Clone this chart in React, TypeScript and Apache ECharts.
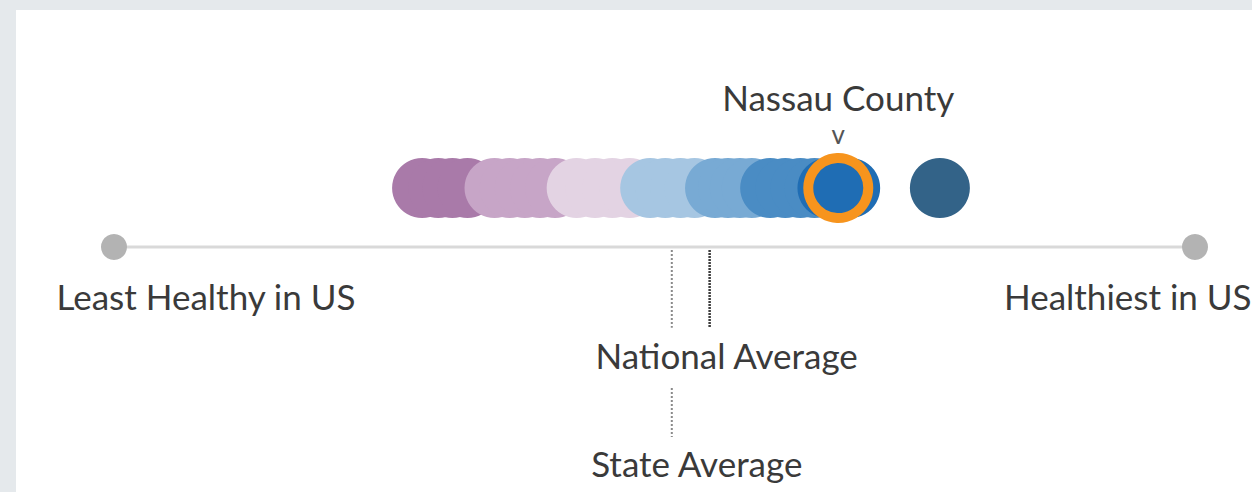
import React, { useEffect, useRef } from "react";
import * as echarts from "echarts";

// Health score of each county on a 0 (least healthy in US) .. 100 (healthiest in US) scale
const countyScores = [
  28.5, 30.0, 31.3, 32.7, 35.2, 36.6, 38.0, 39.4, 40.8, 42.8, 44.5, 46.1, 47.7,
  49.6, 51.0, 52.4, 53.7, 55.6, 56.8, 57.9, 59.0, 60.7, 62.1, 63.5, 64.8, 66.0,
  68.1, 76.4,
];
// Quantile bin of each county (0 = worst .. 7 = best)
const countyBins = [
  0, 0, 0, 0, 1, 1, 1, 1, 1, 2, 2, 2, 2, 3, 3, 3, 3, 4, 4, 4, 4, 5, 5, 5, 5, 6, 6, 7,
];
const highlightName = "Nassau County";
const highlightScore = 67.0;
const highlightBin = 6;
const stateAverage = 51.6;
const nationalAverage = 55.1;
const scaleMin = 0;
const scaleMax = 100;
const scaleLabels = ["Least Healthy in US", "Healthiest in US"];

const binColors = [
  "#a97aa9",
  "#c7a5c7",
  "#e3d3e3",
  "#a6c6e2",
  "#78aad4",
  "#4a8cc4",
  "#1f6db4",
  "#336388",
];

const TEXT = "#3a3a3a";
const FONT = "Lato, 'Open Sans', sans-serif";
const FS = 35;

export default function App() {
  const ref = useRef<HTMLDivElement>(null);
  useEffect(() => {
    if (!ref.current) return;
    const chart = echarts.init(ref.current, undefined, { renderer: "svg" });
    const option: any = {
      animation: false,
      backgroundColor: "#e5e9ec",
      graphic: [
        {
          type: "rect",
          z: -100,
          shape: { x: 16, y: 10, width: 1252 - 16, height: 492 - 10 },
          style: { fill: "#ffffff" },
          silent: true,
        },
      ],
      grid: { left: 114, right: 57, top: 188, bottom: 9, containLabel: false },
      xAxis: {
        type: "value",
        min: scaleMin,
        max: scaleMax,
        show: false,
      },
      yAxis: {
        type: "value",
        min: -4,
        max: 1,
        show: false,
      },
      series: [
        {
          type: "line",
          z: 1,
          symbol: "none",
          silent: true,
          data: [
            [scaleMin, 0],
            [scaleMax, 0],
          ],
          lineStyle: { color: "#d9d9d9", width: 3 },
        },
        {
          type: "line",
          z: 1,
          symbol: "none",
          silent: true,
          data: [
            [stateAverage, -0.05],
            [stateAverage, -1.37],
          ],
          lineStyle: { color: "#8a8a8a", width: 2, type: [2, 2] },
        },
        {
          type: "line",
          z: 1,
          symbol: "none",
          silent: true,
          data: [
            [stateAverage, -2.39],
            [stateAverage, -3.22],
          ],
          lineStyle: { color: "#8a8a8a", width: 2, type: [2, 2] },
        },
        {
          type: "line",
          z: 1,
          symbol: "none",
          silent: true,
          data: [
            [nationalAverage, -0.05],
            [nationalAverage, -1.37],
          ],
          lineStyle: { color: "#3d3d3d", width: 2.5, type: [2, 1] },
        },
        {
          type: "scatter",
          z: 2,
          silent: true,
          symbolSize: 0.1,
          itemStyle: { opacity: 1, color: "rgba(0,0,0,0)" },
          data: [
            {
              value: [nationalAverage, -1.83],
              label: {
                show: true,
                formatter: "National Average",
                position: "inside",
                offset: [17, 0],
              },
            },
            {
              value: [stateAverage, -3.66],
              label: {
                show: true,
                formatter: "State Average",
                position: "inside",
                offset: [25, 0],
              },
            },
          ],
          label: {
            color: TEXT,
            fontFamily: FONT,
            fontSize: FS,
            align: "center",
            verticalAlign: "middle",
          },
        },
        {
          type: "scatter",
          z: 2,
          silent: true,
          symbolSize: 26,
          itemStyle: { color: "#b3b3b3", opacity: 1 },
          data: [
            {
              value: [scaleMin, 0],
              label: {
                show: true,
                formatter: scaleLabels[0],
                position: "inside",
                align: "center",
                offset: [92, 49],
              },
            },
            {
              value: [scaleMax, 0],
              label: {
                show: true,
                formatter: scaleLabels[1],
                position: "inside",
                align: "left",
                offset: [-191, 49],
              },
            },
          ],
          label: {
            color: TEXT,
            fontFamily: FONT,
            fontSize: FS,
            verticalAlign: "middle",
          },
        },
        {
          type: "scatter",
          z: 3,
          silent: true,
          symbolSize: 60,
          data: countyScores.map((s, i) => ({
            value: [s, 1],
            itemStyle: { color: binColors[countyBins[i]], opacity: 1 },
          })),
        },
        {
          type: "scatter",
          z: 4,
          silent: true,
          symbolSize: 60,
          data: [
            {
              value: [highlightScore, 1],
              itemStyle: {
                color: binColors[highlightBin],
                borderColor: "#f7941d",
                borderWidth: 10,
                opacity: 1,
              },
            },
          ],
          label: {
            show: true,
            position: "top",
            distance: 4,
            formatter: `{a|${highlightName}}\n{b|v}`,
            rich: {
              a: {
                color: TEXT,
                fontFamily: FONT,
                fontSize: FS,
                lineHeight: 44,
                align: "center",
              },
              b: {
                color: "#555",
                fontFamily: FONT,
                fontSize: 26,
                lineHeight: 30,
                align: "center",
              },
            },
          },
        },
      ],
    };
    chart.setOption(option);
    return () => chart.dispose();
  }, []);
  return (
    <div
      ref={ref}
      style={{ position: "fixed", left: 0, top: 0, width: 1252, height: 492 }}
    />
  );
}
